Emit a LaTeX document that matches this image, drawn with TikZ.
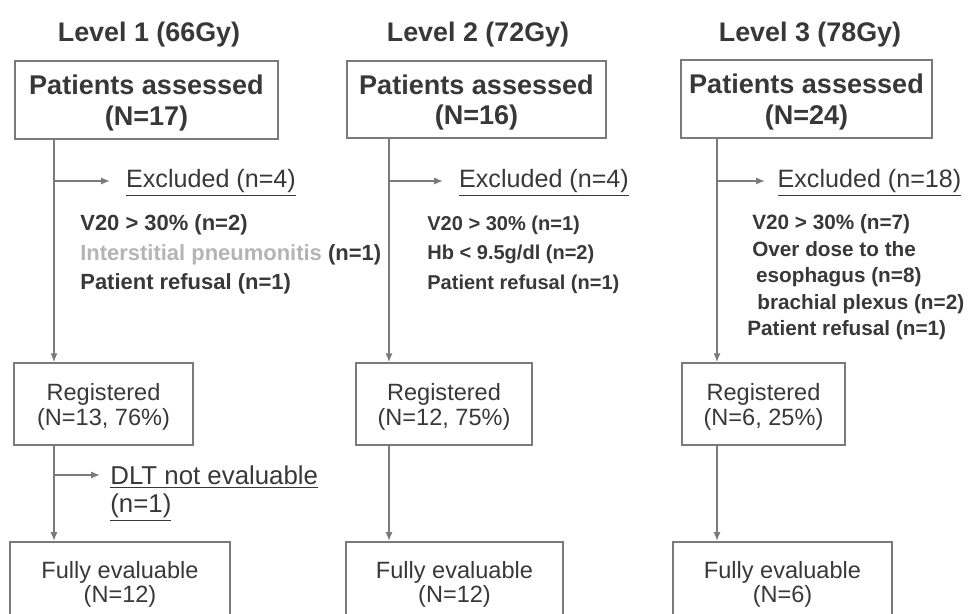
\documentclass[tikz,border=0pt]{standalone}
\usepackage{fontspec}
\setmainfont{Liberation Sans}
\usetikzlibrary{arrows.meta}
\definecolor{ink}{HTML}{383838}
\definecolor{rule}{HTML}{7A7A7A}
\definecolor{faded}{HTML}{B4B4B4}
\newcommand{\topstrut}[1]{\rule{0pt}{#1}}

\begin{document}
\begin{tikzpicture}[x=0.02cm, y=-0.02cm,
    every node/.style={text=ink},
    box/.style={draw=rule, line width=0.9pt, align=center, inner sep=0pt},
    title/.style={font=\fontsize{15.3}{18}\selectfont\bfseries},
    bigbox/.style={box, font=\fontsize{15.4}{17.6}\selectfont\bfseries, minimum height=1.55cm},
    regbox/.style={box, font=\fontsize{13.4}{14.2}\selectfont, minimum height=1.64cm},
    endbox/.style={box, font=\fontsize{13.4}{13.6}\selectfont, minimum height=1.6cm, anchor=north},
    excl/.style={anchor=base west, inner xsep=9pt, inner ysep=0pt, align=left, font=\fontsize{14.3}{15.9}\selectfont},
    items/.style={anchor=west, inner sep=0pt, align=left, font=\fontsize{12.5}{16.8}\selectfont\bfseries},
    arr/.style={draw=rule, line width=0.9pt, -{Latex[length=5pt,width=4pt]}}]
    \useasboundingbox (0,0) rectangle (972,614);

    % Level 1
    \node[title] (t1) at (149,35) {Level 1 (66Gy)};
    \node[bigbox, minimum width=5.26cm] (ass1) at (146.5,100) {\topstrut{14.6pt}Patients assessed\\(N=17)};
    \coordinate (e1) at (110,181);
    \node[excl] (exc1) at (110,187.5) {\underline{Excluded (n=4)}};
    \node[items] (it1) at (80,254.5) {V20 > 30\% (n=2)\\\textcolor{faded}{Interstitial pneumonitis} (n=1)\\Patient refusal (n=1)};
    \node[regbox, minimum width=3.58cm] (reg1) at (103.5,404) {\topstrut{13.2pt}Registered\\(N=13, 76\%)};
    \coordinate (d1) at (100,475);
    \node[excl, anchor=west, inner xsep=5.7pt, font=\fontsize{14.7}{15.9}\selectfont] (dlt1) at (100,494) {\underline{DLT not evaluable}\\\underline{(n=1)}};
    \node[endbox, minimum width=4.4cm] (end1) at (120,541) {\topstrut{12.6pt}Fully evaluable\\(N=12)};
    \coordinate (v1) at (54,0);
    \draw[arr] (v1 |- ass1.south) -- (v1 |- reg1.north);
    \draw[arr] (v1 |- reg1.south) -- (v1 |- end1.north);
    \draw[arr] (v1 |- e1) -- (e1);
    \draw[arr] (v1 |- d1) -- (d1);

    % Level 2
    \node[title] (t2) at (478,35) {Level 2 (72Gy)};
    \node[bigbox, minimum width=5.18cm] (ass2) at (476.5,99.5) {\topstrut{14.6pt}Patients assessed\\(N=16)};
    \coordinate (e2) at (443,181);
    \node[excl] (exc2) at (443,187.5) {\underline{Excluded (n=4)}};
    \node[items, font=\fontsize{11.4}{16.8}\selectfont\bfseries] (it2) at (427,254.5) {V20 > 30\% (n=1)\\Hb < 9.5g/dl (n=2)\\Patient refusal (n=1)};
    \node[regbox, minimum width=3.52cm] (reg2) at (444,404) {\topstrut{13.2pt}Registered\\(N=12, 75\%)};
    \node[endbox, minimum width=4.34cm] (end2) at (454.5,541) {\topstrut{12.6pt}Fully evaluable\\(N=12)};
    \coordinate (v2) at (389,0);
    \draw[arr] (v2 |- ass2.south) -- (v2 |- reg2.north);
    \draw[arr] (v2 |- reg2.south) -- (v2 |- end2.north);
    \draw[arr] (v2 |- e2) -- (e2);

    % Level 3
    \node[title] (t3) at (810,35) {Level 3 (78Gy)};
    \node[bigbox, minimum width=5.02cm] (ass3) at (806.5,99) {\topstrut{14.6pt}Patients assessed\\(N=24)};
    \coordinate (e3) at (765,181);
    \node[excl, inner xsep=7pt] (exc3) at (765,187.5) {\underline{Excluded (n=18)}};
    \node[items, font=\fontsize{11.8}{15.1}\selectfont\bfseries] (it3) at (747,277.5) {\hspace{2.8pt}V20 > 30\% (n=7)\\\hspace{2.8pt}Over dose to the\\\hspace{5pt}esophagus (n=8)\\\hspace{5.7pt}brachial plexus (n=2)\\Patient refusal (n=1)};
    \node[regbox, minimum width=3.26cm] (reg3) at (763.5,404) {\topstrut{13.2pt}Registered\\(N=6, 25\%)};
    \node[endbox, minimum width=4.38cm] (end3) at (782.5,541) {\topstrut{12.6pt}Fully evaluable\\(N=6)};
    \coordinate (v3) at (717,0);
    \draw[arr] (v3 |- ass3.south) -- (v3 |- reg3.north);
    \draw[arr] (v3 |- reg3.south) -- (v3 |- end3.north);
    \draw[arr] (v3 |- e3) -- (e3);
\end{tikzpicture}
\end{document}
